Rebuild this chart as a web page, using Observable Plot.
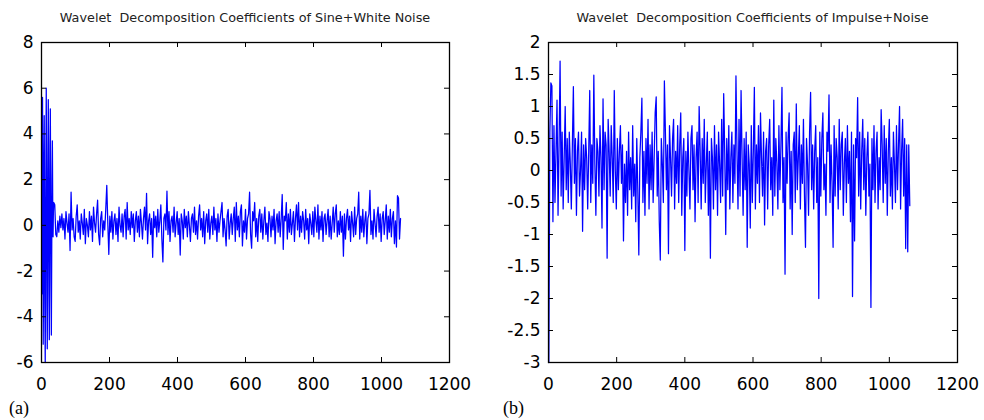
<!DOCTYPE html>
<html>
<head>
<meta charset="utf-8">
<script src="https://cdn.jsdelivr.net/npm/d3@7"></script>
<script src="https://cdn.jsdelivr.net/npm/@observablehq/plot@0.6"></script>
<style>
  html, body { margin: 0; padding: 0; background: #fff; }
  #wrap { position: relative; width: 984px; height: 420px; overflow: hidden; background: #fff; }
  .panel { position: absolute; top: 0; }
  .title { position: absolute; top: 10px; font: 12.8px "DejaVu Sans", sans-serif; line-height: 15px; color: #222; white-space: pre; transform: translateX(-50%); }
  .tag { position: absolute; top: 398px; font: 18px "Liberation Serif", "Times New Roman", serif; color: #000; }
</style>
</head>
<body>
<div id="wrap"></div>
<script>
// ---------- data ----------
const titles = [
  "Wavelet  Decomposition Coefficients of Sine+White Noise",
  "Wavelet  Decomposition Coefficients of Impulse+Noise"
];
const tags = ["(a)", "(b)"];
const xTicks = [0, 200, 400, 600, 800, 1000, 1200];
const yTicksA = [-6, -4, -2, 0, 2, 4, 6, 8];
const yTicksB = [-3, -2.5, -2, -1.5, -1, -0.5, 0, 0.5, 1, 1.5, 2];

// (a) first coefficients, sample index 1..36 (coarse approximation of the sine)
const sineHead = [
  -3.0, 2.0, 5.6, 1.5, -5.2, -3.0, 2.5, 4.8, 1.0, -4.0, -6.0, -2.0, 3.0, 6.0, 2.5, -3.5, -5.4, -1.5,
  3.0, 5.5, 2.0, -3.0, -5.0, -1.0, 3.5, 5.1, 1.5, -2.5, -4.8, -1.5, 2.0, 3.7, 1.0, -0.5, 0.6, 1.0
];
// (a) detail coefficients, read every 3rd sample starting at index 39
const sineTail = [
  0.9, -0.4, -0.5, 0.2, -0.3, 0.4, -0.1, 0.5, -0.2, 0.3, -0.6, 0.6, 0.1, -0.3, 0.5, -1.1, 1.45, -0.2, 0.3, -0.5,
  -0.7, 0.4, 0.9, -0.3, 0.2, -0.6, 0.5, 0.1, -0.4, 0.7, -0.8, 0.3, 0.0, -0.5, 0.6, -0.2, 0.4, -0.7, 0.8, 0.1,
  -0.3, 0.5, 1.1, -0.4, -0.85, 0.3, 0.6, -0.5, 0.2, -0.2, 0.7, 1.75, 0.1, -1.27, 0.4, -0.3, 0.6, -0.6, 0.2, 0.5,
  -0.4, 0.3, -0.7, 0.8, 0.0, -0.3, 0.5, -0.5, 0.4, 0.7, -0.6, 1.0, -0.2, 0.3, -0.4, 0.6, -0.1, 0.5, -0.7, 0.2,
  0.6, -0.3, 0.4, -0.5, 0.7, 0.1, -0.6, 0.3, 0.8, -0.2, 1.4, -0.8, 0.2, 0.5, -0.4, 0.3, -1.4, 0.6, -0.1, 0.4,
  -0.5, 0.7, -0.3, 0.2, 0.9, -0.6, -1.6, 0.3, 0.5, -0.2, 1.5, -0.4, 0.6, -0.7, 0.2, 0.4, -0.3, 0.8, -0.5, 0.1,
  0.6, -0.4, 0.3, -1.3, 0.5, 0.2, -0.6, 0.7, -0.1, 0.4, -0.5, 0.6, 0.0, -0.7, 0.3, 0.5, -0.3, 0.8, -0.4, 0.2,
  -0.6, 0.4, 0.9, -0.2, 0.3, -0.5, 0.6, -0.8, 0.2, 0.5, -0.3, 0.7, -0.6, 0.1, 0.4, -0.4, 0.8, -0.2, 0.3, -0.7,
  0.5, -0.3, 0.2, 0.6, 1.0, -0.5, 0.3, -0.2, -0.9, 0.4, 0.7, -0.6, 0.1, 0.5, -0.4, 0.3, 0.8, -0.7, 1.0, -0.2,
  0.4, -0.5, 0.6, 0.9, -0.9, 0.2, -0.3, 0.7, -0.6, 0.3, 0.5, 1.45, -0.4, -1.0, 0.6, 0.2, 1.0, -0.5, 0.3, -0.7,
  0.4, 0.7, -0.3, 0.5, -0.6, 0.2, 0.8, -0.4, 0.1, -0.7, 0.6, 0.3, -0.5, 0.4, -0.2, 0.7, -0.8, 0.2, 0.5, -0.3,
  0.6, -0.5, 0.3, 1.35, -1.05, 0.4, 0.2, 1.0, -0.6, 0.5, -0.3, 0.7, -0.4, 0.1, 0.6, -0.7, 0.3, 0.9, -0.2, 1.0,
  -0.5, 0.4, -0.3, 0.6, 0.2, -0.6, 0.7, -0.2, 0.3, -0.8, 0.5, 0.1, -0.4, 0.6, -0.5, 0.8, 0.2, -0.3, 0.9, -0.6,
  0.4, -0.2, 0.6, -0.7, 0.3, 0.5, -0.4, 0.2, 0.7, -0.5, 0.4, -0.6, 0.1, 0.8, -0.3, 0.5, 0.9, -0.5, 0.2, -0.4,
  0.6, -0.3, 0.4, -1.35, 0.5, -0.6, 0.3, 0.7, -0.2, 0.4, -0.7, 0.6, 0.1, -0.5, 0.8, -0.4, 0.3, 0.5, 1.45, -0.6,
  0.4, -0.3, 0.7, -0.5, 0.2, 0.6, -0.8, 0.3, 0.5, 1.53, -0.4, 0.2, -0.6, 0.7, 0.1, -0.5, 0.4, 0.8, -0.3, 0.5,
  -0.7, 0.3, 0.6, -0.4, 0.2, 0.9, -0.6, 0.4, -0.3, 0.7, -0.5, 0.3, 0.6, -0.8, 0.2, -0.95, 1.3, 1.2, -0.6, 0.3
];
// (b) coefficients, read every 3rd sample starting at index 1
const impulseVals = [
  -3.0, 0.6, 1.37, 1.32, -0.8, 0.7, -0.5, 0.3, 1.1, -0.7, 0.4, 1.71, -0.4, 0.6, -0.6, 0.2, 1.0, -0.3, 0.5, -0.5,
  0.6, 0.1, -0.6, 0.4, 1.31, -0.2, 0.5, -0.7, 0.3, 0.6, -0.4, 0.0, 0.6, -0.95, 0.4, -0.3, 0.5, 0.2, -0.6, 0.3,
  1.25, -0.5, 0.4, -0.2, 1.49, 0.1, -0.7, 0.5, 0.3, -0.4, 0.7, 0.2, -0.9, 1.12, -0.3, 0.6, 0.4, -1.37, 0.8, 0.3,
  -0.4, 0.7, 0.2, -0.5, 1.25, 0.0, -0.6, 0.5, -0.3, 0.3, 0.7, -0.2, 0.4, -1.1, 0.1, -0.5, 0.3, -0.7, 0.6, -0.3,
  0.2, -0.6, 0.7, -0.4, 0.1, -0.8, 0.5, -0.3, -1.32, 0.2, 0.6, 1.13, -0.5, 0.3, -0.7, 0.5, -0.2, 0.8, -0.6, 0.4,
  -0.3, 0.6, -0.5, 0.2, 0.9, 1.15, -0.4, 0.3, -0.8, -1.4, 0.5, 0.1, -0.5, 1.40, 0.6, -0.3, 0.4, -1.3, 0.7, 0.2,
  -0.4, 0.5, 0.8, -0.6, 0.3, -0.2, 0.7, -0.5, 0.4, 0.9, -0.7, 0.2, 0.5, -1.25, 0.3, -0.4, 0.6, 0.0, -0.6, 0.5,
  0.7, -0.3, 0.4, -0.8, 0.2, 0.6, -0.5, 1.0, 0.3, -0.6, 0.5, -0.2, 0.8, -0.5, 0.1, 0.6, -0.7, 0.3, -1.37, 0.5,
  0.2, -0.6, 0.7, -0.3, 0.4, -0.7, 0.6, 0.1, -0.5, 0.8, -0.4, 1.2, 0.3, -1.0, 0.5, -0.3, 0.7, -0.6, 0.2, 0.6,
  -0.5, 0.4, -0.2, 1.48, 0.3, -0.6, 0.8, -0.4, 1.25, 0.2, -0.7, 0.5, -0.3, 0.6, -1.2, 0.4, 0.1, -0.9, 0.7, -0.5,
  0.3, 1.3, -0.6, 0.4, -0.2, 0.7, -0.5, 0.9, 0.2, -0.4, 0.6, -0.85, 0.3, 0.5, -0.6, 0.4, 0.8, -0.3, 0.2, -0.7,
  1.1, -0.4, 0.5, 0.1, -0.6, 0.7, -0.3, 0.4, 1.3, -0.5, 0.2, -1.62, 0.6, -0.2, 0.5, 0.9, -0.6, 0.3, -1.0, 0.4,
  0.6, -0.5, 1.04, -0.3, 0.2, 0.7, -0.6, 0.4, -0.2, 0.8, -0.4, -1.2, 0.5, 0.1, -0.7, 0.6, 1.22, -0.3, 0.4, -0.6,
  0.3, 0.7, -0.5, 0.2, -2.0, 0.6, -0.4, 0.5, 0.9, -0.3, 0.1, -0.7, 0.6, 0.3, 1.18, -0.5, 0.4, -0.2, -1.2, 0.7,
  -0.4, 0.5, 0.2, -0.6, 0.8, -0.3, 0.4, 0.6, -0.7, 0.1, 0.5, -0.5, 0.7, -0.2, 0.3, -0.8, 0.6, -1.97, 0.4, -1.1,
  0.5, 0.2, 1.14, -0.4, 0.6, -0.6, 0.3, 0.8, -0.3, 0.5, -0.7, 0.2, 0.6, -0.4, 0.1, -2.14, 0.5, -0.3, 0.7, -0.5,
  0.3, 0.6, -0.6, 0.2, -0.3, 0.95, 0.4, -0.5, 0.7, -0.2, 0.5, -0.7, 0.3, 0.8, -0.4, 0.2, -0.6, 0.6, 0.1, -0.5,
  0.7, -0.3, 0.4, 1.0, -0.6, 0.3, 0.8, -0.4, 0.5, -1.22, 0.4, -1.27, 0.4, -0.55
];

// ---------- build series (x = coefficient index) ----------
const sineData = [
  ...sineHead.map((v, i) => ({x: i + 1, y: v})),
  ...sineTail.map((v, i) => ({x: 39 + 3 * i, y: v}))
];
const impulseData = impulseVals.map((v, i) => ({x: 1 + 3 * i, y: v}));

const wrap = document.getElementById("wrap");

function panel({data, yDomain, yTicks, left, width, marginLeft, marginRight, title, tag, tagLeft}) {
  const height = 400, marginTop = 42, marginBottom = 38;
  const fw = width - marginLeft - marginRight;
  const fh = height - marginTop - marginBottom;
  const tick = 5;
  const chart = Plot.plot({
    width, height, marginLeft, marginRight, marginTop, marginBottom,
    style: {fontFamily: "'DejaVu Sans', sans-serif", fontSize: "17px", color: "#000", background: "transparent"},
    x: {domain: [0, 1200], ticks: xTicks, tickSize: 0, tickPadding: 15, tickFormat: d => String(d), label: null},
    y: {domain: yDomain, ticks: yTicks, tickSize: 0, tickPadding: 8, tickFormat: d => String(d), label: null},
    marks: [
      Plot.line(data, {x: "x", y: "y", stroke: "#0000ff", strokeWidth: 1.25}),
      Plot.tickX(xTicks, {x: d => d, stroke: "#000", insetTop: fh - tick}),
      Plot.tickX(xTicks, {x: d => d, stroke: "#000", insetBottom: fh - tick}),
      Plot.tickY(yTicks, {y: d => d, stroke: "#000", insetRight: fw - tick}),
      Plot.tickY(yTicks, {y: d => d, stroke: "#000", insetLeft: fw - tick}),
      Plot.frame({stroke: "#000", strokeWidth: 1.3})
    ]
  });
  const div = document.createElement("div");
  div.className = "panel";
  div.style.left = left + "px";
  div.appendChild(chart);
  wrap.appendChild(div);

  const t = document.createElement("div");
  t.className = "title";
  t.textContent = title;
  t.style.left = (left + marginLeft + fw / 2) + "px";
  wrap.appendChild(t);

  const g = document.createElement("div");
  g.className = "tag";
  g.textContent = tag;
  g.style.left = tagLeft + "px";
  wrap.appendChild(g);
}

panel({data: sineData, yDomain: [-6, 8], yTicks: yTicksA, left: 0, width: 480,
       marginLeft: 41, marginRight: 31, title: titles[0], tag: tags[0], tagLeft: 9});
panel({data: impulseData, yDomain: [-3, 2], yTicks: yTicksB, left: 500, width: 484,
       marginLeft: 48, marginRight: 27, title: titles[1], tag: tags[1], tagLeft: 503});
</script>
</body>
</html>
